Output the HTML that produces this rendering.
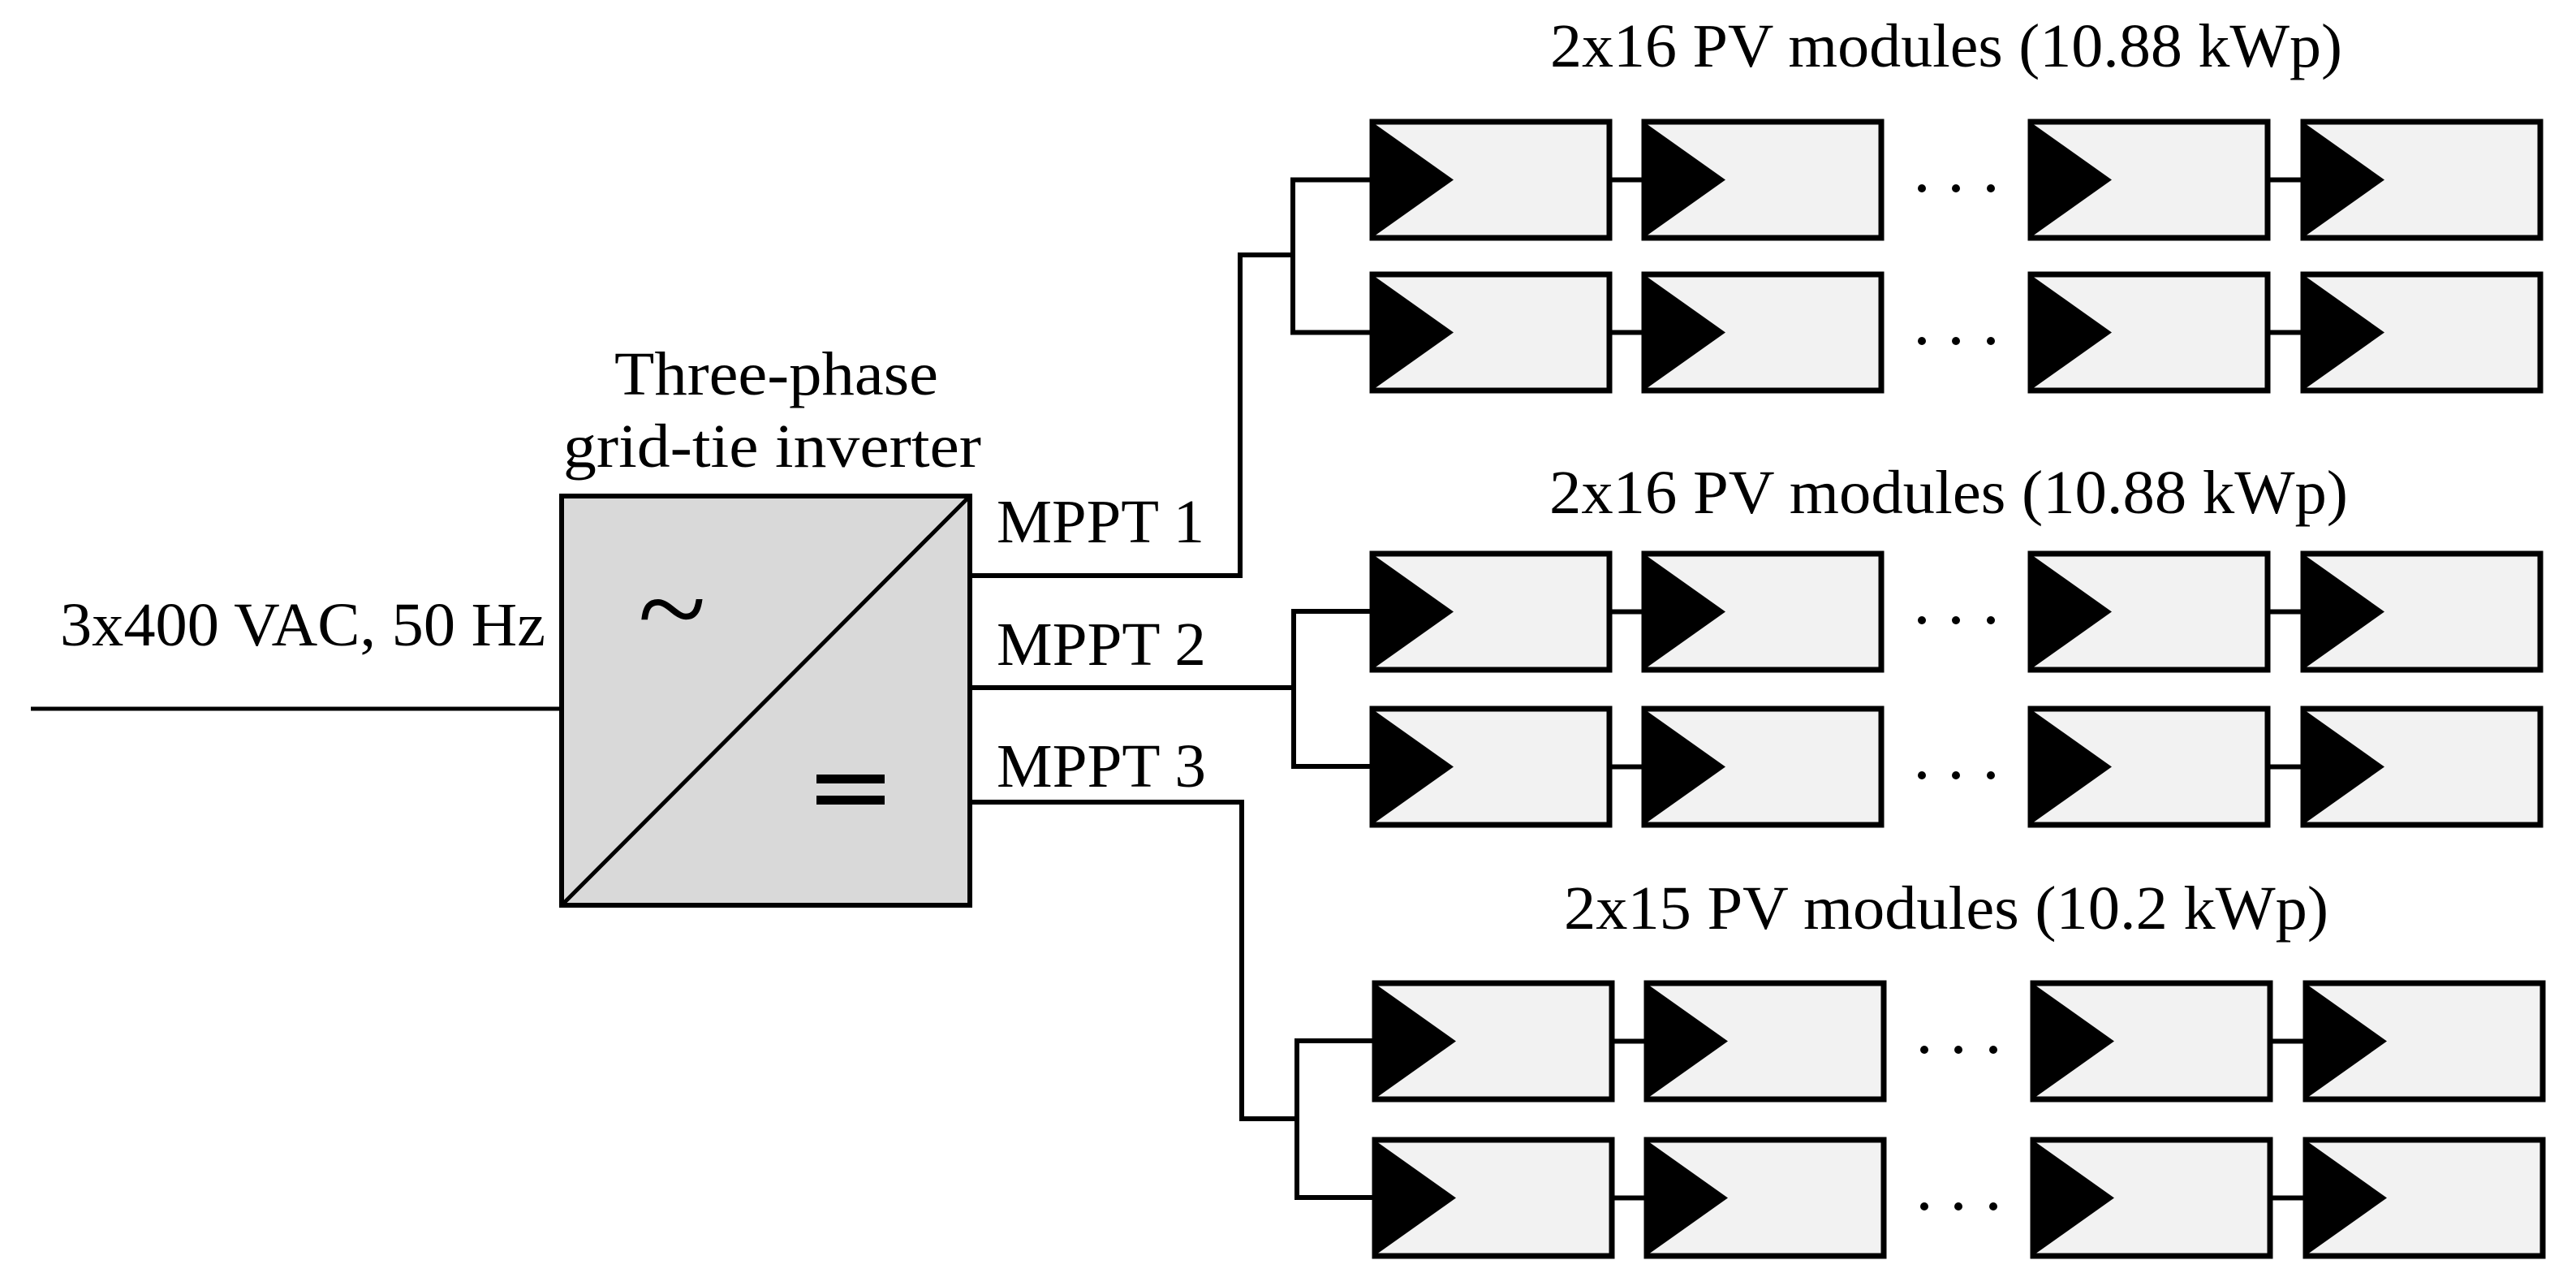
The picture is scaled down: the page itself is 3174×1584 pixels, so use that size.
<!DOCTYPE html>
<html><head><meta charset="utf-8"><style>html,body{margin:0;padding:0;background:#fff}svg{display:block}</style></head>
<body>
<svg width="3174" height="1584" viewBox="0 0 3174 1584" xmlns="http://www.w3.org/2000/svg" font-family="'Liberation Serif', serif" font-size="76" fill="#000">
<defs>
<g id="m">
<rect x="0" y="0" width="292" height="143" fill="#f2f2f2" stroke="#000" stroke-width="7"/>
<polygon points="2,2 100,71.5 2,141" fill="#000"/>
</g>
<g id="row">
<use href="#m" x="1691" y="0"/>
<use href="#m" x="2026" y="0"/>
<use href="#m" x="2502" y="0"/>
<use href="#m" x="2838" y="0"/>
<line x1="1983" y1="71.5" x2="2026" y2="71.5" stroke="#000" stroke-width="6"/>
<line x1="2794" y1="71.5" x2="2838" y2="71.5" stroke="#000" stroke-width="6"/>
<circle cx="2368" cy="82" r="5"/><circle cx="2410" cy="82" r="5"/><circle cx="2453" cy="82" r="5"/>
</g>
</defs>

<line x1="38" y1="873" x2="692" y2="873" stroke="#000" stroke-width="5"/>
<text x="74" y="795" textLength="598" lengthAdjust="spacingAndGlyphs">3x400 VAC, 50 Hz</text>

<text x="757" y="486" textLength="399" lengthAdjust="spacingAndGlyphs">Three-phase</text>
<text x="694" y="575" textLength="515" lengthAdjust="spacingAndGlyphs">grid-tie inverter</text>
<rect x="692" y="611" width="503" height="504" fill="#d9d9d9" stroke="#000" stroke-width="6"/>
<line x1="692" y1="1115" x2="1195" y2="611" stroke="#000" stroke-width="5"/>
<text x="786" y="800" font-size="150" textLength="84" lengthAdjust="spacingAndGlyphs">~</text>
<rect x="1006" y="954" width="84" height="11"/>
<rect x="1006" y="980" width="84" height="11"/>

<text x="1228" y="668" textLength="256" lengthAdjust="spacingAndGlyphs">MPPT 1</text>
<text x="1228" y="819" textLength="258" lengthAdjust="spacingAndGlyphs">MPPT 2</text>
<text x="1228" y="969" textLength="258" lengthAdjust="spacingAndGlyphs">MPPT 3</text>

<g fill="none" stroke="#000" stroke-width="6">
<polyline points="1195,709 1528,709 1528,314 1593,314"/>
<polyline points="1691,221.5 1593,221.5 1593,409.5 1691,409.5"/>
<line x1="1195" y1="847" x2="1594" y2="847"/>
<polyline points="1691,753 1594,753 1594,944 1691,944"/>
<polyline points="1195,988 1530,988 1530,1378 1598,1378"/>
<polyline points="1694,1282 1598,1282 1598,1475 1694,1475"/>
</g>

<text x="1910" y="82" textLength="976" lengthAdjust="spacingAndGlyphs">2x16 PV modules (10.88 kWp)</text>
<text x="1909" y="632" textLength="984" lengthAdjust="spacingAndGlyphs">2x16 PV modules (10.88 kWp)</text>
<text x="1927" y="1144" textLength="942" lengthAdjust="spacingAndGlyphs">2x15 PV modules (10.2 kWp)</text>

<use href="#row" x="0" y="150"/>
<use href="#row" x="0" y="338"/>
<use href="#row" x="0" y="682"/>
<use href="#row" x="0" y="873"/>
<use href="#row" x="3" y="1211"/>
<use href="#row" x="3" y="1404"/>
</svg>
</body></html>
